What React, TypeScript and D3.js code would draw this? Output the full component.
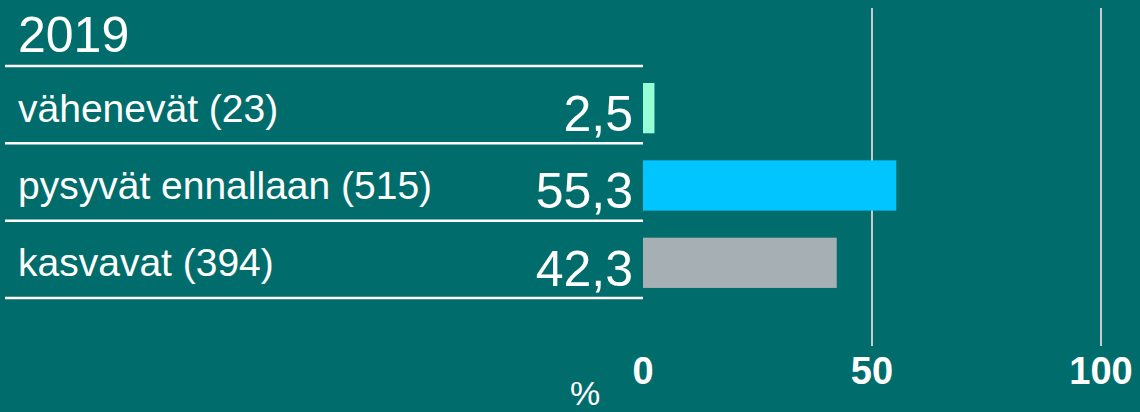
import React from "react";
import * as d3 from "d3";

const title = "2019";
const categories = ["vähenevät (23)", "pysyvät ennallaan (515)", "kasvavat (394)"];
const values = [2.5, 55.3, 42.3];
const colors = ["#96ffd6", "#00c5ff", "#a5afb4"];
const ticks = [0, 50, 100];
const unitLabel = "%";

const W = 1140,
  H = 412;

export default function App() {
  const x = d3.scaleLinear().domain([0, 100]).range([643, 1101]);
  const y = d3.scaleBand<string>().domain(categories).range([66, 298]).padding(0);
  const bw = y.bandwidth();
  const fmt = (v: number) => d3.format(".1f")(v).replace(".", ",");
  const font = "'Liberation Sans', Arial, sans-serif";

  return (
    <svg
      width={W}
      height={H}
      style={{ position: "absolute", left: 0, top: 0, background: "#006d6c" }}
      fontFamily={font}
    >
      <rect width={W} height={H} fill="#006d6c" />

      {/* gridlines */}
      {ticks.slice(1).map(t => (
        <line key={t} x1={x(t)} x2={x(t)} y1={8} y2={346} stroke="#c8cccc" strokeWidth={2} />
      ))}

      <text x={18} y={52} fill="#fff" fontSize={50}>{title}</text>

      {/* row separators */}
      {[...categories.map(c => y(c) as number), 298].map((yy, i) => (
        <line key={i} x1={5} x2={x(0)} y1={yy} y2={yy} stroke="#fff" strokeWidth={2.5} />
      ))}

      {categories.map((c, i) => {
        const top = y(c) as number;
        return (
          <g key={c}>
            <text x={18} y={top + bw * 0.72} fill="#fff" fontSize={39}>{c}</text>
            <text x={x(0) - 10} y={top + bw * 0.84} fill="#fff" fontSize={50} textAnchor="end">
              {fmt(values[i])}
            </text>
            <rect x={x(0)} y={top + bw * 0.22} width={x(values[i]) - x(0)} height={bw * 0.65} fill={colors[i]} />
          </g>
        );
      })}

      {/* x axis labels */}
      {ticks.map(t => (
        <text key={t} x={x(t)} y={384} fill="#fff" fontSize={38} fontWeight="bold" textAnchor="middle">
          {t}
        </text>
      ))}
      <text x={585} y={405} fill="#fff" fontSize={34} textAnchor="middle">{unitLabel}</text>
    </svg>
  );
}
